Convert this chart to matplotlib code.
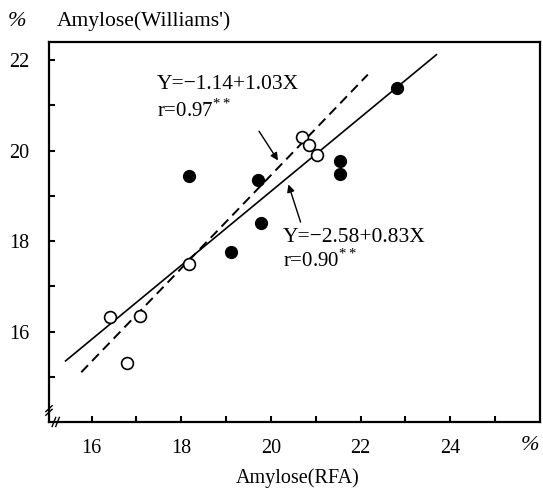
import matplotlib.pyplot as plt

plt.rcParams['font.family'] = ['Liberation Serif', 'DejaVu Serif']
plt.rcParams['mathtext.fontset'] = 'custom'
plt.rcParams['mathtext.rm'] = 'Liberation Serif'

# data: Amylose RFA (x) vs Williams' (y)
open_x = [16.40, 16.78, 17.07, 18.17, 20.70, 20.84, 21.03]
open_y = [16.33, 15.31, 16.35, 17.49, 20.31, 20.13, 19.91]
filled_x = [18.18, 19.10, 19.71, 19.78, 21.54, 21.55, 22.82]
filled_y = [19.43, 17.76, 19.35, 18.41, 19.78, 19.49, 21.38]

# regression lines (endpoints as drawn)
solid_x = [15.42, 23.69]
solid_y = [15.35, 22.12]
dash_x = [15.77, 22.16]
dash_y = [15.10, 21.68]

xticks = [16, 18, 20, 22, 24]
yticks = [16, 18, 20, 22]
eq1 = 'Y=−1.14+1.03X'
r1 = 'r=0.97$^{**}$'
eq2 = 'Y=−2.58+0.83X'
r2 = 'r=0.90$^{**}$'

fig = plt.figure(figsize=(5.43, 4.92), dpi=100)
ax = fig.add_axes([0.0902, 0.1423, 0.9043, 0.7723])

ax.plot(solid_x, solid_y, color='black', lw=1.2)
ax.plot(dash_x, dash_y, color='black', lw=1.4, dashes=(5, 3))
ax.plot(open_x, open_y, 'o', ms=8.5, mfc='white', mec='black', mew=1.2)
ax.plot(filled_x, filled_y, 'o', ms=8.5, mfc='black', mec='black')

ax.set_xlim(15.05, 26.0)
ax.set_ylim(14, 22.4)
ax.set_xticks(xticks)
ax.set_yticks(yticks)
ax.set_xticks([17, 19, 21, 23, 25], minor=True)
ax.set_yticks([15, 17, 19, 21], minor=True)
ax.tick_params(which='both', direction='in', length=4, width=1.5, labelsize=14.5)
ax.tick_params(axis='x', pad=12)
ax.tick_params(axis='y', pad=14)
for s in ax.spines.values():
    s.set_linewidth(1.6)

fs = 15.5
ax.text(17.45, 21.46, eq1, fontsize=fs, va='center')
ax.text(17.45, 20.88, r1, fontsize=fs - 0.5, va='center')
ax.text(20.26, 18.07, eq2, fontsize=fs, va='center')
ax.text(20.26, 17.58, r2, fontsize=fs - 0.5, va='center')

arr = dict(arrowstyle='-|>', color='black', lw=1.0, mutation_scale=11)
ax.annotate('', xy=(20.19, 19.73), xytext=(19.70, 20.48), arrowprops=arr)
ax.annotate('', xy=(20.37, 19.31), xytext=(20.68, 18.36), arrowprops=arr)

# axis break marks at the origin
for dx in [0.0, 0.08]:
    ax.plot([15.12 + dx, 15.20 + dx], [13.9, 14.1], color='black', lw=1, clip_on=False)
for dy in [0.0, 0.08]:
    ax.plot([14.98, 15.12], [14.15 + dy, 14.28 + dy], color='black', lw=1, clip_on=False)

fig.text(17 / 543, 1 - 22 / 492, '%', fontsize=16, style='italic', ha='center', va='center')
fig.text(57 / 543, 1 - 21 / 492, "Amylose(Williams')", fontsize=15.5, va='center')
fig.text(530 / 543, 1 - 446 / 492, '%', fontsize=16, style='italic', ha='center', va='center')
fig.text(298 / 543, 1 - 478 / 492, 'Amylose(RFA)', fontsize=14.5, ha='center', va='center')

fig.savefig('out.png', dpi=100)
